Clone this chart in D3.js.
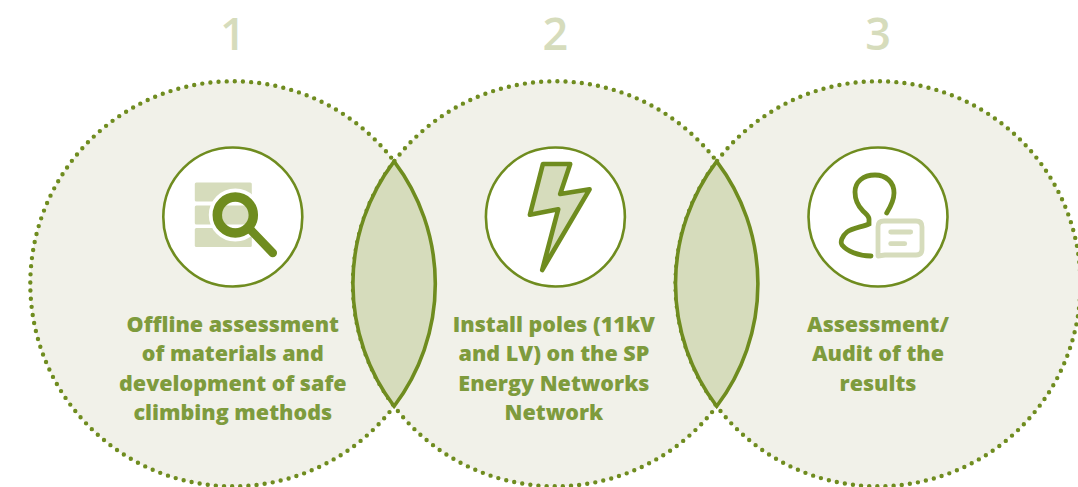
<!DOCTYPE html>
<html lang="en">
<head>
  <meta charset="UTF-8">
  <title>Steps</title>
  <script src="https://d3js.org/d3.v7.min.js"></script>
  <style>
    html, body { margin: 0; padding: 0; background: #fff; overflow: hidden; }
    svg { display: block; }
  </style>
</head>
<body>
  <svg id="chart" width="1078" height="487"></svg>
  <script>
    const steps = ['1', '2', '3'];
    const stepLines = [
      ['Offline assessment', 'of materials and', 'development of safe', 'climbing methods'],
      ['Install poles (11kV', 'and LV) on the SP', 'Energy Networks', 'Network'],
      ['Assessment/', 'Audit of the', 'results']
    ];

    const dark = '#6f8c1f', pale = '#d6dcbc', back = '#f1f1e9', textCol = '#7e9b3d';
    const bigR = 202.5, iconR = 69.5, cy = 283.8, iconY = 217;

    const x = d3.scalePoint().domain(steps).range([232.8, 878]);
    const svg = d3.select('#chart');

    // big dotted circles
    svg.selectAll('circle.big').data(steps).enter().append('circle')
      .attr('class', 'big')
      .attr('cx', d => x(d)).attr('cy', cy).attr('r', bigR)
      .attr('fill', back)
      .attr('stroke', dark).attr('stroke-width', 4.4)
      .attr('stroke-linecap', 'round')
      .attr('stroke-dasharray', '0 8.17');

    // overlaps between neighbours
    const lensPath = (a, b) => {
      const half = (x(b) - x(a)) / 2, mid = (x(a) + x(b)) / 2;
      const dy = Math.sqrt(bigR * bigR - half * half);
      const ang = Math.atan2(dy, half);
      const p = d3.path();
      p.moveTo(mid, cy - dy);
      p.arc(x(a), cy, bigR, -ang, ang);
      p.arc(x(b), cy, bigR, Math.PI - ang, Math.PI + ang);
      p.closePath();
      return p.toString();
    };
    svg.selectAll('path.lens').data(d3.pairs(steps)).enter().append('path')
      .attr('class', 'lens')
      .attr('d', d => lensPath(d[0], d[1]))
      .attr('fill', pale)
      .attr('stroke', dark).attr('stroke-width', 3.6)
      .attr('stroke-linejoin', 'miter');

    // numbers
    svg.selectAll('text.num').data(steps).enter().append('text')
      .attr('class', 'num')
      .attr('x', d => x(d)).attr('y', 50)
      .attr('text-anchor', 'middle')
      .attr('font-family', '"Open Sans", sans-serif')
      .attr('font-weight', 600)
      .attr('font-size', 45)
      .attr('fill', pale)
      .text(d => d);

    // icon discs
    const icons = svg.selectAll('g.icon').data(steps).enter().append('g')
      .attr('class', 'icon')
      .attr('transform', d => `translate(${x(d)},${iconY})`);
    icons.append('circle')
      .attr('r', iconR)
      .attr('fill', '#fff')
      .attr('stroke', dark).attr('stroke-width', 2.6);

    // icon 1: stacked records and magnifier
    const g1 = icons.filter(d => d === '1');
    g1.selectAll('rect').data([-34.5, -11.5, 11]).enter().append('rect')
      .attr('x', -38).attr('y', d => d)
      .attr('width', 57).attr('height', 19).attr('rx', 1.5)
      .attr('fill', pale);
    g1.append('circle').attr('cx', 2.5).attr('cy', -2).attr('r', 20)
      .attr('fill', 'none').attr('stroke', '#fff').attr('stroke-width', 13);
    g1.append('line').attr('x1', 18).attr('y1', 13).attr('x2', 40).attr('y2', 36)
      .attr('stroke', dark).attr('stroke-width', 8.5).attr('stroke-linecap', 'round');
    g1.append('circle').attr('cx', 2.5).attr('cy', -2).attr('r', 18)
      .attr('fill', 'none').attr('stroke', dark).attr('stroke-width', 9.5);

    // icon 2: bolt
    icons.filter(d => d === '2').append('path')
      .attr('d', 'M-12.5,-53 L14.8,-53 L4.8,-23 L34.2,-27.7 L-13.2,53 L2.8,-7.7 L-25.5,-2.3 Z')
      .attr('fill', pale)
      .attr('stroke', dark).attr('stroke-width', 4.6).attr('stroke-linejoin', 'round');

    // icon 3: person with speech bubble
    const g3 = icons.filter(d => d === '3');
    g3.append('path')
      .attr('d', 'M8.7,-4 C13,-11 16,-17 16,-24 C16,-35 8,-42 -3,-42 C-15,-42 -23,-35 -23,-25 C-23,-17 -20,-11 -15,-6 C-11,-2 -9,-1 -9,2 L-9,7 C-16,10 -26,11 -31,15 C-36,19 -38,25 -36,28 C-31,34 -20,39 -7,39')
      .attr('fill', 'none')
      .attr('stroke', dark).attr('stroke-width', 4.8).attr('stroke-linecap', 'round');
    g3.append('path')
      .attr('d', 'M0,39 L0,10 Q0,4 6,4 L38,4 Q44,4 44,10 L44,32 Q44,38 38,38 L7,38 Z')
      .attr('fill', '#fff')
      .attr('stroke', pale).attr('stroke-width', 4.8).attr('stroke-linejoin', 'round');
    g3.selectAll('line').data([[12.7, 32.7, 15], [12.7, 26.7, 26.7]]).enter().append('line')
      .attr('x1', d => d[0]).attr('x2', d => d[1])
      .attr('y1', d => d[2]).attr('y2', d => d[2])
      .attr('stroke', pale).attr('stroke-width', 4.8).attr('stroke-linecap', 'round');

    // captions
    svg.selectAll('text.caption').data(steps).enter().append('text')
      .attr('class', 'caption')
      .attr('text-anchor', 'middle')
      .attr('font-family', '"Open Sans", sans-serif')
      .attr('font-weight', 800)
      .attr('font-size', 21.5)
      .attr('fill', textCol)
      .selectAll('tspan').data((d, i) => stepLines[i].map(t => ({ t, s: d }))).enter().append('tspan')
      .attr('x', d => x(d.s) + (d.s === '2' ? -1.5 : 0))
      .attr('y', (d, i) => 332 + i * 29.3)
      .text(d => d.t);
  </script>
</body>
</html>
